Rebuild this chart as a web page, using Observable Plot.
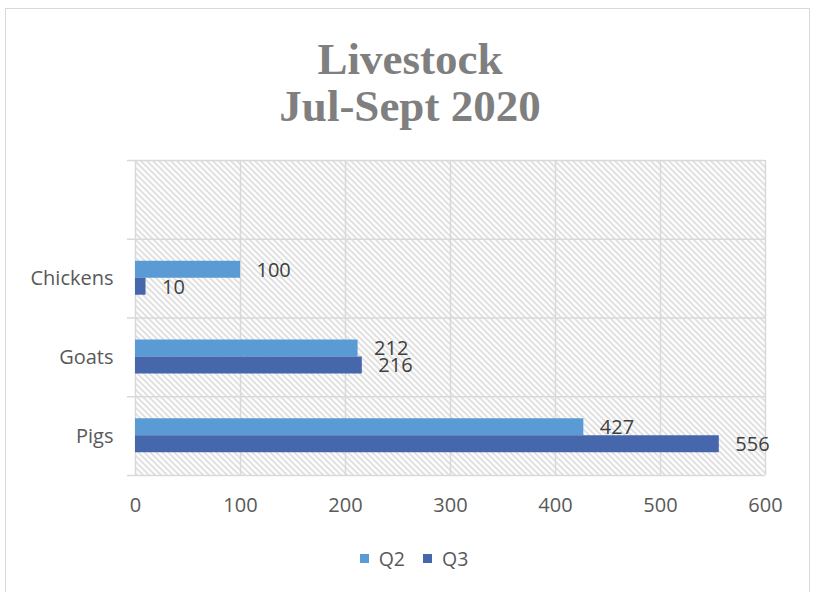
<!DOCTYPE html>
<html>
<head>
<meta charset="utf-8">
<script src="https://cdn.jsdelivr.net/npm/d3@7"></script>
<script src="https://cdn.jsdelivr.net/npm/@observablehq/plot@0.6"></script>
<style>
  body { margin: 0; background: #fff; }
  #wrap { position: relative; width: 815px; height: 592px; overflow: hidden; font-family: "Open Sans", sans-serif; }
  #border { position: absolute; left: 5px; top: 8px; width: 805px; height: 600px; border: 1.5px solid #d9d9d9; box-sizing: border-box; }
  #title { position: absolute; left: 5px; top: 36px; width: 810px; text-align: center; font-family: "Liberation Serif", serif; font-weight: bold; font-size: 45px; line-height: 47px; color: #7f7f7f; }
  #chart { position: absolute; left: 0; top: 140px; }
  #legend { position: absolute; left: 9px; width: 810px; top: 545px; display: flex; justify-content: center; align-items: center; font-size: 19.5px; color: #595959; }
  .item { display: flex; align-items: center; margin: 0 9px; }
  .sw { width: 9px; height: 9px; margin-right: 10px; }
</style>
</head>
<body>
<div id="wrap">
  <div id="border"></div>
  <div id="title">Livestock<br>Jul-Sept 2020</div>
  <div id="chart"></div>
  <div id="legend"></div>
</div>
<script>
// Data (categories listed top to bottom; first is Excel's blank category)
const categories = ["", "Chickens", "Goats", "Pigs"];
const seriesNames = ["Q2", "Q3"];
const q2Values = [null, 100, 212, 427];
const q3Values = [null, 10, 216, 556];
const xTicks = [0, 100, 200, 300, 400, 500, 600];
const seriesColors = ["#5B9BD5", "#4767AD"];

const rows = [];
categories.forEach((c, i) => {
  if (q2Values[i] != null) rows.push({category: c, series: "Q2", value: q2Values[i]});
  if (q3Values[i] != null) rows.push({category: c, series: "Q3", value: q3Values[i]});
});
const q2Rows = rows.filter(d => d.series === "Q2");
const q3Rows = rows.filter(d => d.series === "Q3");

const W = 815, H = 380, mT = 20, mB = 45;
const bw = (H - mT - mB) / categories.length;
const grid = "#d9d9d9";

const chart = Plot.plot({
  width: W, height: H,
  marginLeft: 135, marginRight: 50, marginTop: mT, marginBottom: mB,
  style: {fontFamily: "Open Sans", fontSize: "20px", color: "#595959", background: "transparent", overflow: "visible"},
  x: {domain: [0, 600], ticks: xTicks, label: null},
  y: {domain: categories, padding: 0, round: false, label: null},
  color: {domain: seriesNames, range: seriesColors},
  marks: [
    Plot.frame({fill: "url(#hatch)", stroke: "none"}),
    Plot.ruleX(xTicks, {stroke: grid, strokeWidth: 1.5}),
    Plot.ruleY(categories, {y: d => d, x1: 0, x2: 600, insetLeft: -8, dy: -bw / 2, stroke: grid, strokeWidth: 1.5}),
    Plot.ruleY(categories.slice(-1), {y: d => d, x1: 0, x2: 600, insetLeft: -8, dy: bw / 2, stroke: grid, strokeWidth: 1.5}),
    Plot.barX(q2Rows, {x: "value", y: "category", fill: "series", insetTop: 22, insetBottom: bw - 39}),
    Plot.barX(q3Rows, {x: "value", y: "category", fill: "series", insetTop: 39, insetBottom: bw - 56}),
    Plot.text(q2Rows, {x: "value", y: "category", text: d => String(d.value), dx: 16, dy: -8.5, textAnchor: "start", fill: "#404040"}),
    Plot.text(q3Rows, {x: "value", y: "category", text: d => String(d.value), dx: 16, dy: 8.5, textAnchor: "start", fill: "#404040"}),
    Plot.axisX({tickSize: 0, tickPadding: 22, tickFormat: d => String(d), label: null}),
    Plot.axisY({tickSize: 0, tickPadding: 22, label: null})
  ]
});

const svg = chart.tagName.toLowerCase() === "svg" ? chart : chart.querySelector("svg");
const ns = "http://www.w3.org/2000/svg";
const defs = document.createElementNS(ns, "defs");
const pat = document.createElementNS(ns, "pattern");
pat.setAttribute("id", "hatch");
pat.setAttribute("patternUnits", "userSpaceOnUse");
pat.setAttribute("width", "6");
pat.setAttribute("height", "6");
const bg = document.createElementNS(ns, "rect");
bg.setAttribute("width", "6"); bg.setAttribute("height", "6"); bg.setAttribute("fill", "#ffffff");
const p = document.createElementNS(ns, "path");
p.setAttribute("d", "M-1,-1L7,7M5,-1L7,1M-1,5L1,7");
p.setAttribute("stroke", "#d0d0d0");
p.setAttribute("stroke-width", "1.3");
pat.appendChild(bg); pat.appendChild(p);
defs.appendChild(pat);
svg.insertBefore(defs, svg.firstChild);

document.getElementById("chart").appendChild(chart);

const legend = document.getElementById("legend");
seriesNames.forEach((s, i) => {
  const it = document.createElement("div");
  it.className = "item";
  const sw = document.createElement("div");
  sw.className = "sw";
  sw.style.background = seriesColors[i];
  const t = document.createElement("span");
  t.textContent = s;
  it.appendChild(sw); it.appendChild(t);
  legend.appendChild(it);
});
</script>
</body>
</html>
